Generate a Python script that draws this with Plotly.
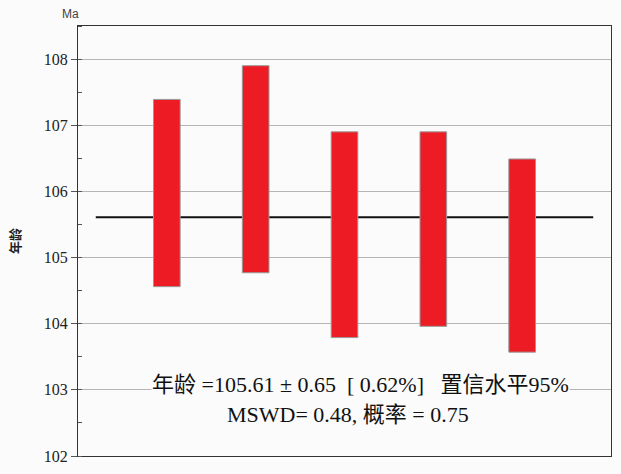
import plotly.graph_objects as go

# Data
analyses = [1, 2, 3, 4, 5]
age_low = [104.56, 104.77, 103.79, 103.96, 103.57]
age_high = [107.39, 107.90, 106.90, 106.90, 106.49]
mean_age = 105.61
mean_line_x = [0.2, 5.8]
y_ticks = [102, 103, 104, 105, 106, 107, 108]

line1 = "年龄 =105.61 ± 0.65  [ 0.62%]   置信水平95%"
line2 = "MSWD= 0.48, 概率 = 0.75"

serif = "'Liberation Serif', 'DejaVu Serif', serif"
serif_cjk = "'Liberation Serif', 'DejaVu Serif', 'Noto Sans CJK SC', serif"
bg = "#fbfbfb"

fig = go.Figure()

# weighted mean line (drawn on base subplot, beneath bars)
fig.add_trace(go.Scatter(
    x=mean_line_x, y=[mean_age, mean_age], mode="lines",
    line=dict(color="#111111", width=2), xaxis="x", yaxis="y",
    showlegend=False, hoverinfo="skip"))

# error boxes on overlay axes so they sit on top of the line
fig.add_trace(go.Bar(
    x=analyses, base=age_low,
    y=[h - l for h, l in zip(age_high, age_low)],
    width=0.3, marker=dict(color="#ED1C24", line=dict(color="#999999", width=1)),
    xaxis="x2", yaxis="y2", showlegend=False))

fig.update_layout(
    width=621, height=474,
    margin=dict(l=78, r=10, t=26, b=9),
    paper_bgcolor=bg, plot_bgcolor=bg,
    xaxis=dict(range=[0, 6], showticklabels=False, ticks="", showgrid=False,
               zeroline=False, showline=True, linecolor="#333333", linewidth=1,
               mirror=True),
    yaxis=dict(range=[102, 108.5], tickvals=y_ticks, ticks="outside", ticklen=6,
               tickcolor="#555555", showgrid=True, gridcolor="#b5b5b5", gridwidth=1,
               zeroline=False, showline=True, linecolor="#333333", linewidth=1,
               mirror=True,
               tickfont=dict(family=serif, size=16, color="#222222"),
               minor=dict(dtick=0.5, ticks="inside", ticklen=4, tickcolor="#555555",
                          showgrid=False),
               title=dict(text="<b>年龄</b>", standoff=20,
                          font=dict(family="Noto Sans CJK SC", size=13, color="#222222"))),
    xaxis2=dict(range=[0, 6], overlaying="x", visible=False),
    yaxis2=dict(range=[102, 108.5], overlaying="y", visible=False),
)

fig.add_annotation(x=3.18, y=103.08, xref="x", yref="y", text=line1, showarrow=False,
                   font=dict(family=serif_cjk, size=22, color="#111111"), bgcolor=bg,
                   borderpad=0)
fig.add_annotation(x=3.04, y=102.62, xref="x", yref="y", text=line2, showarrow=False,
                   font=dict(family=serif_cjk, size=22, color="#111111"), bgcolor=bg,
                   borderpad=0)
fig.add_annotation(x=-0.034, y=1.0, xref="paper", yref="paper", yanchor="bottom", yshift=3,
                   text="Ma", showarrow=False,
                   font=dict(family="Liberation Sans", size=12, color="#444444"))

fig.write_html("out.html")
